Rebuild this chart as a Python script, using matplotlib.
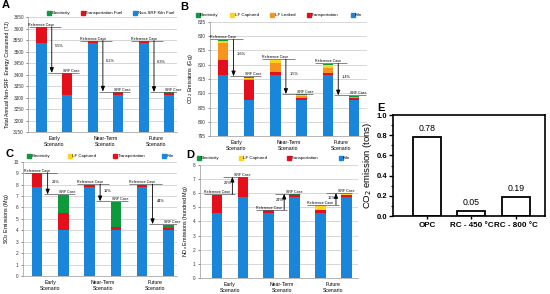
import numpy as np
import matplotlib
matplotlib.use('Agg')
import matplotlib.pyplot as plt
from matplotlib.lines import Line2D
from matplotlib.ticker import MultipleLocator

plt.rcParams['font.family'] = ['Liberation Sans', 'DejaVu Sans']

colors = {
    'Electricity': '#0c9a3c',
    'LF Captured': '#ffd21f',
    'LF Leaked': '#f7941d',
    'Transportation': '#e3101b',
    'Kiln': '#1a86d9',
}

scenarios = ['Early\nScenario', 'Near-Term\nScenario', 'Future\nScenario']

# bars go ref, srf, ref, srf, ref, srf
a_kiln = [3535, 3310, 3535, 3310, 3535, 3310]
a_trans = [70, 93, 10, 12, 10, 10]
a_elec = [1, 2, 0.5, 2, 0.5, 2]
a_pct = ['5.5%', '6.2%', '6.3%']

b_kiln = [816.5, 807.5, 816.5, 807.5, 816.5, 807.5]
b_trans = [5.0, 7.0, 0.8, 1.0, 0.7, 0.8]
b_leaked = [6.0, 0.5, 3.2, 0.5, 1.8, 0.3]
b_capt = [1.0, 0.3, 1.0, 0.3, 1.0, 0.2]
b_elec = [0.3, 0.5, 0.3, 0.3, 0.3, 0.3]
b_pct = ['1.6%', '1.5%', '1.4%']

c_kiln = [7.8, 4.0, 7.8, 4.0, 7.8, 4.0]
c_trans = [1.2, 1.5, 0.2, 0.3, 0.2, 0.2]
c_capt = [0, 0, 0, 0, 0, 0]
c_elec = [0, 1.6, 0, 2.2, 0, 0.3]
c_pct = ['21%', '19%', '44%']

d_kiln = [4.6, 5.7, 4.6, 5.7, 4.6, 5.7]
d_trans = [1.3, 1.4, 0.2, 0.2, 0.2, 0.2]
d_capt = [0, 0, 0, 0, 0.35, 0.05]
d_elec = [0, 0.03, 0, 0.03, 0, 0.03]
d_pct = ['20%', '24%', '16%']

e_labels = ['OPC', 'RC - 450 °C', 'RC - 800 °C']
e_vals = [0.78, 0.05, 0.19]

fig = plt.figure(figsize=(5.5, 2.94), dpi=100)


def stacked(ax, layers, legend_names, legend_labels, ylim, ystep, xlim, leg_box):
    x = np.arange(6)
    bottom = np.zeros(6)
    for name, vals in layers:
        vals = np.array(vals, dtype=float)
        ax.bar(x, vals, 0.4, bottom=bottom, color=colors[name], zorder=2)
        bottom += vals
    ax.set_ylim(*ylim)
    ax.set_xlim(*xlim)
    ax.yaxis.set_major_locator(MultipleLocator(ystep))
    ax.grid(axis='y', color='#c8c8c8', lw=0.5, zorder=0)
    ax.set_xticks([0.5, 2.5, 4.5], scenarios, fontsize=3.7)
    ax.tick_params(axis='x', length=0, pad=3)
    ax.tick_params(axis='y', labelsize=3.4, length=1.5, width=0.4, pad=1.5, colors='#333333')
    for s in ['top', 'right']:
        ax.spines[s].set_visible(False)
    for s in ['left', 'bottom']:
        ax.spines[s].set_color('#999999')
        ax.spines[s].set_linewidth(0.5)
    handles = [Line2D([], [], ls='none', marker='s', ms=2.4, color=colors[n]) for n in legend_names]
    ax.legend(handles, legend_labels,
              loc='lower left', bbox_to_anchor=leg_box, mode='expand', ncol=len(legend_names),
              frameon=False, fontsize=3.2, handletextpad=0.1, handlelength=0.8,
              borderaxespad=0, borderpad=0, columnspacing=0.5)
    return bottom


def cases(ax, totals, pcts, span, up=False):
    for g in range(3):
        p = 2 * g
        ref, srf = totals[p], totals[p + 1]
        off = 0.004 * span
        arrow = dict(arrowstyle='-|>,head_length=0.3,head_width=0.12',
                     lw=0.6, color='k', shrinkA=0, shrinkB=0)
        if up:
            ax.hlines(ref + off, p - 0.5, p + 0.7, color='#555555', lw=0.5, zorder=3)
            ax.hlines(srf + off, p + 0.23, p + 1.2, color='#555555', lw=0.5, zorder=3)
            ax.text(p, ref + off, 'Reference Case', fontsize=2.6, ha='center', va='bottom')
            ax.text(p + 1.0, srf + off, 'SRF Case', fontsize=2.6, ha='center', va='bottom')
            ax.annotate('', xy=(p + 0.6, srf + off), xytext=(p + 0.6, ref + off), arrowprops=arrow)
            ax.text(p + 0.43, srf - 0.35 * (srf - ref), pcts[g], fontsize=2.8, ha='center', va='center')
        else:
            ax.hlines(ref + off, p - 0.5, p + 0.75, color='#555555', lw=0.5, zorder=3)
            ax.hlines(srf + off, p + 0.25, p + 1.45, color='#555555', lw=0.5, zorder=3)
            ax.text(p, ref + off, 'Reference Case', fontsize=2.6, ha='center', va='bottom')
            ax.text(p + 1.15, srf + off, 'SRF Case', fontsize=2.6, ha='center', va='bottom')
            ax.annotate('', xy=(p + 0.4, srf + off), xytext=(p + 0.4, ref + off), arrowprops=arrow)
            ax.text(p + 0.7, srf + 0.6 * (ref - srf), pcts[g], fontsize=2.8, ha='center', va='center')


# A
axA = fig.add_axes([0.0509, 0.551, 0.2709, 0.391])
tot = stacked(axA, [('Kiln', a_kiln), ('Transportation', a_trans), ('Electricity', a_elec)],
              ['Electricity', 'Transportation', 'Kiln'],
              ['Electricity', 'Transportation Fuel', 'Non-SRF Kiln Fuel'],
              (3150, 3650), 50, (-0.53, 5.3), (0.13, 1.015, 0.85, 0.05))
cases(axA, tot, a_pct, 500)
axA.set_ylabel('Total Annual Non-SRF  Energy Consumed (TJ)', fontsize=3.7, labelpad=2)

# B
names = ['Electricity', 'LF Captured', 'LF Leaked', 'Transportation', 'Kiln']
axB = fig.add_axes([0.3818, 0.5374, 0.2855, 0.3878])
tot = stacked(axB, [('Kiln', b_kiln), ('Transportation', b_trans), ('LF Leaked', b_leaked),
                    ('LF Captured', b_capt), ('Electricity', b_elec)],
              names, names, (795, 835), 5, (-0.5, 5.5), (-0.09, 1.04, 1.06, 0.05))
cases(axB, tot, b_pct, 40)
axB.set_ylabel('CO$_2$ Emissions (Gg)', fontsize=3.9, labelpad=2)

# C
names = ['Electricity', 'LF Captured', 'Transportation', 'Kiln']
axC = fig.add_axes([0.0418, 0.0612, 0.28, 0.3888])
tot = stacked(axC, [('Kiln', c_kiln), ('Transportation', c_trans), ('LF Captured', c_capt),
                    ('Electricity', c_elec)],
              names, names, (0, 10), 1, (-0.54, 5.33), (0.03, 1.03, 0.95, 0.05))
cases(axC, tot, c_pct, 10)
axC.set_ylabel('SO$_2$ Emissions (Mg)', fontsize=3.9, labelpad=2)

# D
axD = fig.add_axes([0.3636, 0.0544, 0.2873, 0.3844])
tot = stacked(axD, [('Kiln', d_kiln), ('Transportation', d_trans), ('LF Captured', d_capt),
                    ('Electricity', d_elec)],
              names, names, (0, 8), 1, (-0.65, 5.45), (-0.02, 1.04, 0.97, 0.05))
cases(axD, tot, d_pct, 8, up=True)
axD.set_ylabel('NO$_x$ Emissions (hundred Mg)', fontsize=3.9, labelpad=2)

# E
axE = fig.add_axes([0.7145, 0.2653, 0.2764, 0.3435])
xe = np.arange(len(e_vals))
axE.bar(xe, e_vals, 0.63, color='white', edgecolor='black', lw=1.3)
for xi, v in zip(xe, e_vals):
    axE.text(xi, v + 0.04, f'{v:.2f}', ha='center', va='bottom', fontsize=6.3)
axE.set_xlim(-0.76, 2.65)
axE.set_ylim(0, 1.0)
axE.yaxis.set_major_locator(MultipleLocator(0.2))
axE.yaxis.set_minor_locator(MultipleLocator(0.1))
axE.yaxis.set_major_formatter(plt.FormatStrFormatter('%.1f'))
axE.set_xticks(xe, e_labels, fontsize=5.8, fontweight='bold')
axE.tick_params(axis='y', labelsize=5.5, length=3, width=1, pad=1)
axE.tick_params(axis='y', which='minor', length=1.8, width=0.8)
axE.tick_params(axis='x', length=2, width=1, pad=2)
for lbl in axE.get_yticklabels():
    lbl.set_fontweight('bold')
for s in axE.spines.values():
    s.set_linewidth(1.2)
axE.set_ylabel('CO$_2$ emission (tons)', fontsize=6.8, labelpad=2)

for lbl, x, y in [('A', 5.5, 5), ('B', 184.5, 6.5), ('C', 10, 154), ('D', 190, 155), ('E', 381, 108)]:
    fig.text(x / 550, 1 - y / 294, lbl, fontsize=8, fontweight='bold', ha='center', va='center')

fig.savefig('out.png', dpi=100)
